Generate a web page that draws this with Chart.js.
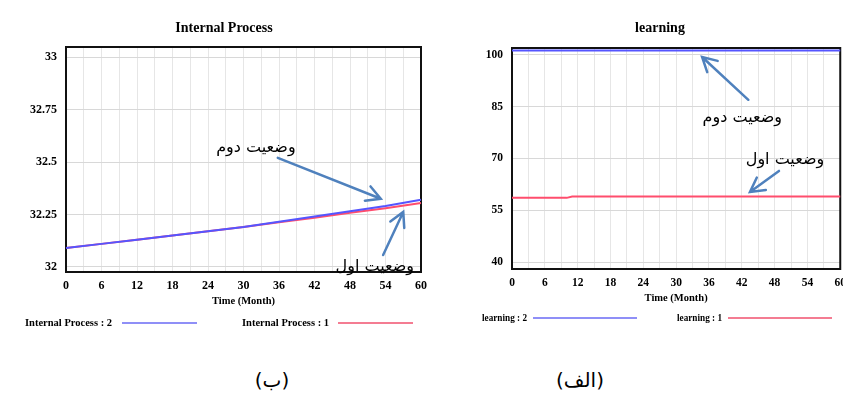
<!DOCTYPE html>
<html>
<head>
<meta charset="utf-8">
<script src="https://cdn.jsdelivr.net/npm/chart.js@4.4.1/dist/chart.umd.min.js"></script>
<style>
  body { margin: 0; background: #fff; width: 843px; height: 404px; position: relative; overflow: hidden; }
  .box { position: absolute; top: 0; height: 340px; }
  .cap { position: absolute; top: 368px; font: 20px 'DejaVu Sans', sans-serif; color: #000; transform: translateX(-50%); }
</style>
</head>
<body>
<div class="box" style="left:0;width:434px"><canvas id="internalChart"></canvas></div>
<div class="box" style="left:430px;width:423px"><canvas id="learningChart"></canvas></div>
<div class="cap" style="left:272px" dir="rtl">(ب)</div>
<div class="cap" style="left:580px" dir="rtl">(الف)</div>
<script>
// values
var months = [0, 6, 12, 18, 24, 30, 36, 42, 48, 54, 60];
var internal2 = [32.09, 32.11, 32.13, 32.15, 32.17, 32.19, 32.215, 32.24, 32.265, 32.29, 32.32];
var internal1 = [32.09, 32.11, 32.13, 32.15, 32.17, 32.19, 32.213, 32.235, 32.258, 32.28, 32.305];

var learningMonths = [0, 10, 11, 20, 30, 40, 50, 60];
var learning2 = [101.3, 101.3, 101.3, 101.3, 101.3, 101.3, 101.3, 101.3];
var learning1 = [58.6, 58.6, 59, 59, 59, 59, 59, 59];

var xTicks = [0, 6, 12, 18, 24, 30, 36, 42, 48, 54, 60];
var internalTicks = [32, 32.25, 32.5, 32.75, 33];
var learningTicks = [40, 55, 70, 85, 100];

var BLUE = '#5555ff';
var RED = '#ff4d6d';
var ARROW = '#4f81bd';
var SERIF = "'Liberation Serif', 'Times New Roman', serif";
var FARSI = "'DejaVu Sans', sans-serif";

function pts(xs, ys) {
    return xs.map(function (x, i) { return { x: x, y: ys[i] }; });
}

function drawArrow(ctx, x1, y1, x2, y2) {
    var a = Math.atan2(y2 - y1, x2 - x1);
    var h = 16, s = 0.5;
    ctx.beginPath();
    ctx.moveTo(x1, y1);
    ctx.lineTo(x2, y2);
    ctx.moveTo(x2 - h * Math.cos(a - s), y2 - h * Math.sin(a - s));
    ctx.lineTo(x2, y2);
    ctx.lineTo(x2 - h * Math.cos(a + s), y2 - h * Math.sin(a + s));
    ctx.stroke();
}

function decor(d) {
    return {
        id: 'decor',
        beforeDatasetsDraw: function (chart) {
            var c = chart.ctx, a = chart.chartArea;
            c.save();
            c.strokeStyle = '#111';
            c.lineWidth = 2;
            c.strokeRect(a.left, a.top, a.right - a.left, a.bottom - a.top);
            c.restore();
        },
        afterDraw: function (chart) {
            var c = chart.ctx, sx = chart.scales.x, sy = chart.scales.y;
            c.save();
            // title
            c.fillStyle = '#000';
            c.font = 'bold 14px ' + SERIF;
            c.textAlign = 'center';
            c.textBaseline = 'middle';
            c.fillText(d.title, d.titleX, 28);
            // legend
            c.font = 'bold ' + d.legendSize + 'px ' + SERIF;
            c.textAlign = 'left';
            d.legend.forEach(function (it) {
                c.fillStyle = '#000';
                c.fillText(it.text, it.tx, d.legendY, it.w);
                c.strokeStyle = it.color;
                c.lineWidth = 1.5;
                c.beginPath();
                c.moveTo(it.l1, d.legendY);
                c.lineTo(it.l2, d.legendY);
                c.stroke();
            });
            // arrows
            c.strokeStyle = ARROW;
            c.lineWidth = 2.5;
            c.lineCap = 'round';
            d.arrows.forEach(function (ar) {
                drawArrow(c, sx.getPixelForValue(ar[0]), sy.getPixelForValue(ar[1]),
                          sx.getPixelForValue(ar[2]), sy.getPixelForValue(ar[3]));
            });
            // notes
            c.fillStyle = '#000';
            c.font = '16px ' + FARSI;
            c.textAlign = 'center';
            c.direction = 'rtl';
            d.notes.forEach(function (n) {
                c.fillText(n.text, sx.getPixelForValue(n.x), sy.getPixelForValue(n.y));
            });
            c.restore();
        }
    };
}

function makeChart(id, ds, yMin, yMax, yTicks, yW, pad, tickSize, d) {
    return new Chart(document.getElementById(id).getContext('2d'), {
        type: 'line',
        data: { datasets: ds },
        options: {
            responsive: true,
            maintainAspectRatio: false,
            animation: false,
            layout: { padding: pad, autoPadding: false },
            plugins: { legend: { display: false }, tooltip: { enabled: false } },
            elements: { point: { radius: 0 }, line: { borderWidth: 2, tension: 0 } },
            scales: {
                x: {
                    type: 'linear', min: 0, max: 60,
                    afterBuildTicks: function (s) {
                        var t = [];
                        for (var v = 0; v <= 60; v += 3) t.push({ value: v });
                        s.ticks = t;
                    },
                    afterFit: function (s) { s.height = 40; },
                    grid: { color: '#e6e6e6', drawTicks: false },
                    border: { display: false },
                    ticks: {
                        padding: 7, maxRotation: 0, autoSkip: false, color: '#000',
                        font: { family: SERIF, size: tickSize, weight: 'bold' },
                        callback: function (v) { return xTicks.indexOf(v) >= 0 ? String(v) : ''; }
                    },
                    title: {
                        display: true, text: 'Time (Month)', color: '#000',
                        padding: { top: 2, bottom: 4 },
                        font: { family: SERIF, size: 10.5, weight: 'bold' }
                    }
                },
                y: {
                    min: yMin, max: yMax,
                    afterBuildTicks: function (s) {
                        s.ticks = yTicks.map(function (v) { return { value: v }; });
                    },
                    afterFit: function (s) { s.width = yW; },
                    grid: { color: '#d8d8d8', drawTicks: false },
                    border: { display: false },
                    ticks: {
                        padding: 9, color: '#000',
                        font: { family: SERIF, size: tickSize, weight: 'bold' },
                        callback: function (v) { return String(v); }
                    }
                }
            }
        },
        plugins: [decor(d)]
    });
}

makeChart('internalChart', [
    { label: 'Internal Process : 2', data: pts(months, internal2), borderColor: BLUE, clip: false },
    { label: 'Internal Process : 1', data: pts(months, internal1), borderColor: RED, clip: false }
], 31.976, 33.048, internalTicks, 66, { left: 0, right: 0, top: 47, bottom: 28 }, 12, {
    title: 'Internal Process', titleX: 224, legendY: 323, legendSize: 10.5,
    legend: [
        { text: 'Internal Process : 2', tx: 25, w: 88, l1: 122, l2: 197, color: '#6a6af5' },
        { text: 'Internal Process : 1', tx: 242, w: 88, l1: 338, l2: 413, color: '#f0506e' }
    ],
    arrows: [[35.8, 32.52, 53.2, 32.325], [53.6, 32.057, 57.0, 32.262]],
    notes: [{ text: 'وضعیت دوم', x: 32.1, y: 32.567 }, { text: 'وضعیت اول', x: 52.2, y: 32.0 }]
});

makeChart('learningChart', [
    { label: 'learning : 2', data: pts(learningMonths, learning2), borderColor: BLUE, clip: false },
    { label: 'learning : 1', data: pts(learningMonths, learning1), borderColor: RED, clip: false }
], 38, 102, learningTicks, 82, { left: 0, right: 0, top: 48, bottom: 31 }, 11.5, {
    title: 'learning', titleX: 230, legendY: 318, legendSize: 10,
    legend: [
        { text: 'learning : 2', tx: 52, w: 45, l1: 103, l2: 207, color: '#6a6af5' },
        { text: 'learning : 1', tx: 247, w: 45, l1: 298, l2: 402, color: '#f0506e' }
    ],
    arrows: [[43.2, 87.0, 34.75, 99.4], [48.8, 66.4, 43.5, 60.3]],
    notes: [{ text: 'وضعیت دوم', x: 42.1, y: 81.7 }, { text: 'وضعیت اول', x: 49.9, y: 69.6 }]
});
</script>
</body>
</html>
